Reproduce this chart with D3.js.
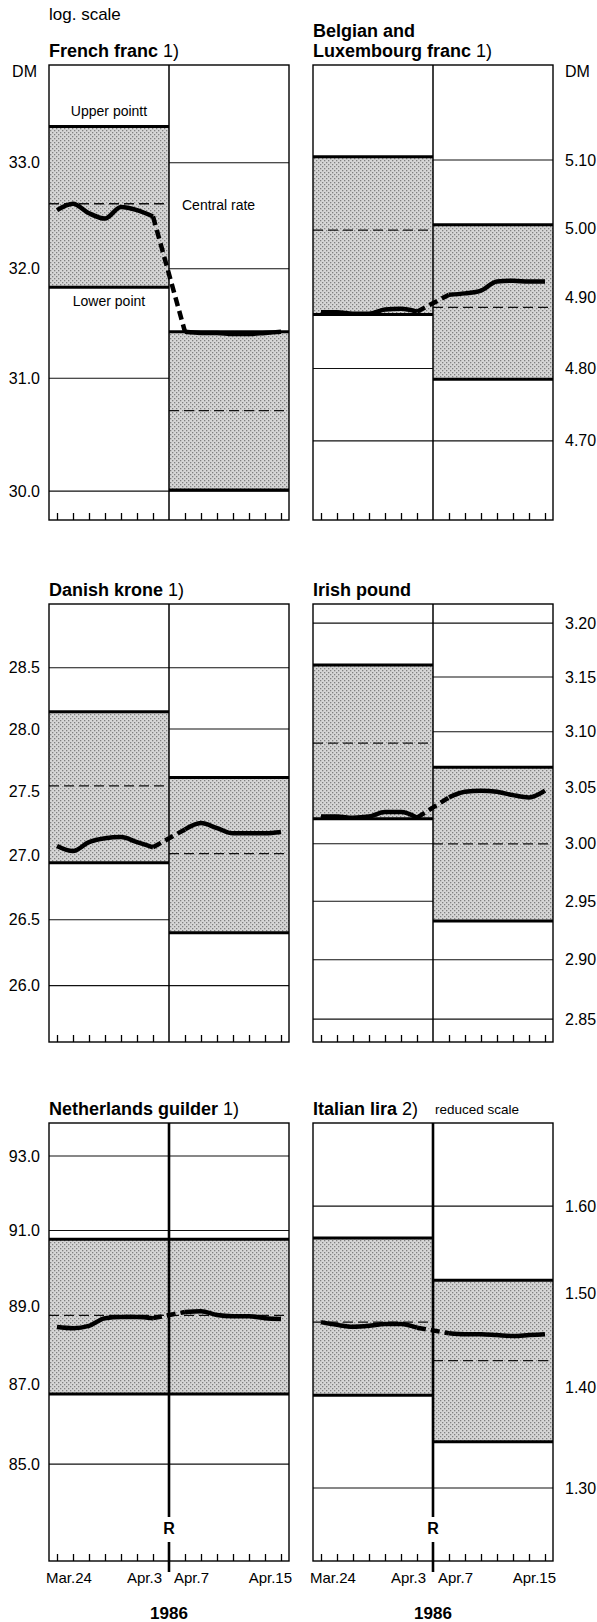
<!DOCTYPE html>
<html>
<head>
<meta charset="utf-8">
<script src="https://cdn.jsdelivr.net/npm/d3@7"></script>
<style>
  body { margin: 0; background: #fff; }
  svg { display: block; font-family: "Liberation Sans", Arial, Helvetica, sans-serif; }
</style>
</head>
<body>
<svg id="chart" width="597" height="1622"></svg>
<script>
// Trading days either side of the EMS realignment of 7 April 1986
const daysBefore = ["Mar.24", "Mar.25", "Mar.26", "Mar.27", "Apr.1", "Apr.2", "Apr.3"];
const daysAfter  = ["Apr.7", "Apr.8", "Apr.9", "Apr.10", "Apr.11", "Apr.14", "Apr.15"];
const tickLabels = ["Mar.24", "Apr.3", "Apr.7", "Apr.15"];
const yearLabel = "1986";

// Spot rates in DM; bands are [lower point, central rate, upper point]
const frfBefore = [32.55, 32.61, 32.52, 32.47, 32.58, 32.55, 32.49];
const frfAfter  = [31.42, 31.41, 31.41, 31.40, 31.40, 31.41, 31.42];
const frfBandBefore = [31.83, 32.61, 33.35];
const frfBandAfter  = [30.01, 30.71, 31.42];
const frfTicks  = [30.0, 31.0, 32.0, 33.0];
const frfDomain = [29.75, 33.95];

const befBefore = [4.879, 4.879, 4.877, 4.877, 4.883, 4.884, 4.880];
const befAfter  = [4.904, 4.906, 4.910, 4.923, 4.924, 4.923, 4.923];
const befBandBefore = [4.876, 4.997, 5.105];
const befBandAfter  = [4.785, 4.886, 5.005];
const befTicks  = [4.70, 4.80, 4.90, 5.00, 5.10];
const befDomain = [4.593, 5.243];

const dkkBefore = [27.07, 27.03, 27.10, 27.13, 27.14, 27.10, 27.06];
const dkkAfter  = [27.20, 27.25, 27.21, 27.17, 27.17, 27.17, 27.18];
const dkkBandBefore = [26.94, 27.545, 28.14];
const dkkBandAfter  = [26.40, 27.01, 27.61];
const dkkTicks  = [26.0, 26.5, 27.0, 27.5, 28.0, 28.5];
const dkkDomain = [25.58, 29.03];

const iepBefore = [3.024, 3.024, 3.023, 3.024, 3.028, 3.028, 3.023];
const iepAfter  = [3.041, 3.046, 3.047, 3.046, 3.043, 3.041, 3.047];
const iepBandBefore = [3.022, 3.0896, 3.161];
const iepBandAfter  = [2.933, 3.000, 3.068];
const iepTicks  = [2.85, 2.90, 2.95, 3.00, 3.05, 3.10, 3.15, 3.20];
const iepDomain = [2.831, 3.218];

const nlgBefore = [88.47, 88.44, 88.50, 88.70, 88.73, 88.73, 88.70];
const nlgAfter  = [88.86, 88.88, 88.78, 88.75, 88.75, 88.70, 88.68];
const nlgBandBefore = [86.76, 88.77, 90.77];
const nlgBandAfter  = [86.76, 88.77, 90.77];
const nlgTicks  = [85.0, 87.0, 89.0, 91.0, 93.0];
const nlgDomain = [82.63, 93.90];

const itlBefore = [1.469, 1.466, 1.464, 1.465, 1.467, 1.467, 1.463];
const itlAfter  = [1.457, 1.456, 1.456, 1.455, 1.454, 1.455, 1.456];
const itlBandBefore = [1.392, 1.469, 1.563];
const itlBandAfter  = [1.345, 1.428, 1.515];
const itlTicks  = [1.30, 1.40, 1.50, 1.60];
const itlDomain = [1.232, 1.701];

const panels = [
  { title: ["French franc"], note: "1)", col: 0, row: 0, before: frfBefore, after: frfAfter,
    bandBefore: frfBandBefore, bandAfter: frfBandAfter, ticks: frfTicks, domain: frfDomain, fmt: ".1f" },
  { title: ["Belgian and", "Luxembourg franc"], note: "1)", col: 1, row: 0, before: befBefore, after: befAfter,
    bandBefore: befBandBefore, bandAfter: befBandAfter, ticks: befTicks, domain: befDomain, fmt: ".2f" },
  { title: ["Danish krone"], note: "1)", col: 0, row: 1, before: dkkBefore, after: dkkAfter,
    bandBefore: dkkBandBefore, bandAfter: dkkBandAfter, ticks: dkkTicks, domain: dkkDomain, fmt: ".1f" },
  { title: ["Irish pound"], note: "", col: 1, row: 1, before: iepBefore, after: iepAfter,
    bandBefore: iepBandBefore, bandAfter: iepBandAfter, ticks: iepTicks, domain: iepDomain, fmt: ".2f" },
  { title: ["Netherlands guilder"], note: "1)", col: 0, row: 2, before: nlgBefore, after: nlgAfter,
    bandBefore: nlgBandBefore, bandAfter: nlgBandAfter, ticks: nlgTicks, domain: nlgDomain, fmt: ".1f" },
  { title: ["Italian lira"], note: "2)", sub: "reduced scale", col: 1, row: 2, before: itlBefore, after: itlAfter,
    bandBefore: itlBandBefore, bandAfter: itlBandAfter, ticks: itlTicks, domain: itlDomain, fmt: ".2f" }
];

// Page layout
const cols = [{ left: 49, right: 289 }, { left: 313, right: 553 }];
const rows = [{ top: 65, bottom: 520 }, { top: 604, bottom: 1042 }, { top: 1123, bottom: 1561 }];

const svg = d3.select("#chart");

// Dot screen used for the intervention band
const defs = svg.append("defs");
const pat = defs.append("pattern").attr("id", "screen")
  .attr("width", 4).attr("height", 4).attr("patternUnits", "userSpaceOnUse");
pat.append("rect").attr("width", 4).attr("height", 4).attr("fill", "#d6d6d6");
pat.append("rect").attr("x", 0).attr("y", 0).attr("width", 1.3).attr("height", 1.3).attr("fill", "#808080");
pat.append("rect").attr("x", 2).attr("y", 2).attr("width", 1.3).attr("height", 1.3).attr("fill", "#808080");

svg.append("text").attr("x", 49).attr("y", 20).attr("font-size", 17).text("log. scale");

panels.forEach(p => {
  const c = cols[p.col], r = rows[p.row];
  const slots = [...daysBefore, "R", ...daysAfter];
  const x = d3.scalePoint().domain(slots).range([c.left, c.right]).padding(0.5);
  const y = d3.scaleLog().domain(p.domain).range([r.bottom, r.top]);
  const mid = x("R");
  const g = svg.append("g");

  // gridlines
  g.selectAll(".grid").data(p.ticks).join("line")
    .attr("x1", c.left).attr("x2", c.right)
    .attr("y1", d => y(d)).attr("y2", d => y(d))
    .attr("stroke", "#111").attr("stroke-width", 1.1);

  // intervention bands before and after the realignment
  const halves = [
    { x0: c.left, x1: mid, band: p.bandBefore },
    { x0: mid, x1: c.right, band: p.bandAfter }
  ];
  halves.forEach(h => {
    const [lo, ce, hi] = h.band;
    g.append("rect")
      .attr("x", h.x0).attr("width", h.x1 - h.x0)
      .attr("y", y(hi)).attr("height", y(lo) - y(hi))
      .attr("fill", "url(#screen)");
    g.append("line")
      .attr("x1", h.x0).attr("x2", h.x1).attr("y1", y(ce)).attr("y2", y(ce))
      .attr("stroke", "#111").attr("stroke-width", 1.3).attr("stroke-dasharray", "10,5");
    [lo, hi].forEach(v => {
      g.append("line")
        .attr("x1", h.x0).attr("x2", h.x1).attr("y1", y(v)).attr("y2", y(v))
        .attr("stroke", "#000").attr("stroke-width", 3);
    });
  });

  // frame
  g.append("rect")
    .attr("x", c.left).attr("y", r.top).attr("width", c.right - c.left).attr("height", r.bottom - r.top)
    .attr("fill", "none").attr("stroke", "#000").attr("stroke-width", 1.4);

  // realignment divider
  if (p.row === 2) {
    g.append("line").attr("x1", mid).attr("x2", mid).attr("y1", r.top).attr("y2", r.bottom - 44)
      .attr("stroke", "#000").attr("stroke-width", 2.6);
    g.append("line").attr("x1", mid).attr("x2", mid).attr("y1", r.bottom - 19).attr("y2", r.bottom + 11)
      .attr("stroke", "#000").attr("stroke-width", 2.6);
    g.append("text").attr("x", mid).attr("y", r.bottom - 27)
      .attr("text-anchor", "middle").attr("font-size", 16).attr("font-weight", "bold").text("R");
  } else {
    g.append("line").attr("x1", mid).attr("x2", mid).attr("y1", r.top).attr("y2", r.bottom)
      .attr("stroke", "#000").attr("stroke-width", 1.5);
  }

  // day ticks along the bottom
  const xAxis = d3.axisBottom(x).tickValues([...daysBefore, ...daysAfter]).tickSize(-7).tickFormat("");
  const xg = g.append("g").attr("transform", `translate(0,${r.bottom})`).call(xAxis);
  xg.select(".domain").remove();
  xg.selectAll(".tick line").attr("stroke", "#000").attr("stroke-width", 1.3);

  // value labels
  const yAxis = (p.col === 0 ? d3.axisLeft(y) : d3.axisRight(y))
    .tickValues(p.ticks).tickFormat(d3.format(p.fmt)).tickSize(0).tickPadding(p.col === 0 ? 9 : 12);
  const yg = g.append("g").attr("transform", `translate(${p.col === 0 ? c.left : c.right},0)`).call(yAxis);
  yg.select(".domain").remove();
  yg.attr("font-family", null).attr("font-size", null);
  yg.selectAll("text").attr("font-size", 16).attr("fill", "#000");

  if (p.row === 0) {
    g.append("text")
      .attr("x", p.col === 0 ? c.left - 12 : c.right + 12).attr("y", r.top + 12)
      .attr("text-anchor", p.col === 0 ? "end" : "start").attr("font-size", 16).text("DM");
  }

  // title
  const t = g.append("text").attr("x", c.left).attr("font-size", 18);
  p.title.forEach((line, i) => {
    t.append("tspan").attr("x", c.left)
      .attr("y", r.top - 8 - (p.title.length - 1 - i) * 20)
      .attr("font-weight", "bold").text(line);
    if (i === p.title.length - 1 && p.note) {
      t.append("tspan").attr("font-weight", "normal").text(" " + p.note);
    }
  });
  if (p.sub) {
    g.append("text").attr("x", c.left + 122).attr("y", r.top - 9)
      .attr("font-size", 13.5).text(p.sub);
  }

  // exchange rate
  const line = d3.line().x(d => x(d.day)).y(d => y(d.v)).curve(d3.curveMonotoneX);
  const before = daysBefore.map((d, i) => ({ day: d, v: p.before[i] }));
  const after = daysAfter.map((d, i) => ({ day: d, v: p.after[i] }));
  [before, after].forEach(seg => {
    g.append("path").attr("d", line(seg)).attr("fill", "none")
      .attr("stroke", "#000").attr("stroke-width", 4.5).attr("stroke-linejoin", "round");
  });
  g.append("path").attr("d", d3.line().x(d => x(d.day)).y(d => y(d.v))([before[before.length - 1], after[0]]))
    .attr("fill", "none").attr("stroke", "#000").attr("stroke-width", 4.5).attr("stroke-dasharray", "9,5");

  // bottom row carries the date labels
  if (p.row === 2) {
    const lab = g.append("g").attr("font-size", 15);
    const pos = [
      { text: tickLabels[0], x: x(daysBefore[0]) - 11, anchor: "start" },
      { text: tickLabels[1], x: x(daysBefore[daysBefore.length - 1]) + 9, anchor: "end" },
      { text: tickLabels[2], x: x(daysAfter[0]) - 11, anchor: "start" },
      { text: tickLabels[3], x: c.right + 3, anchor: "end" }
    ];
    pos.forEach(d => lab.append("text").attr("x", d.x).attr("y", r.bottom + 22)
      .attr("text-anchor", d.anchor).text(d.text));
    g.append("text").attr("x", mid).attr("y", r.bottom + 58).attr("text-anchor", "middle")
      .attr("font-size", 17).attr("font-weight", "bold").text(yearLabel);
  }

  // band annotations in the first panel
  if (p.col === 0 && p.row === 0) {
    const cx = (c.left + mid) / 2;
    g.append("text").attr("x", cx).attr("y", y(p.bandBefore[2]) - 10).attr("text-anchor", "middle")
      .attr("font-size", 14).text("Upper pointt");
    g.append("text").attr("x", cx).attr("y", y(p.bandBefore[0]) + 19).attr("text-anchor", "middle")
      .attr("font-size", 14).text("Lower point");
    g.append("text").attr("x", mid + 13).attr("y", y(p.bandBefore[1]) + 6)
      .attr("font-size", 14).text("Central rate");
  }
});
</script>
</body>
</html>
